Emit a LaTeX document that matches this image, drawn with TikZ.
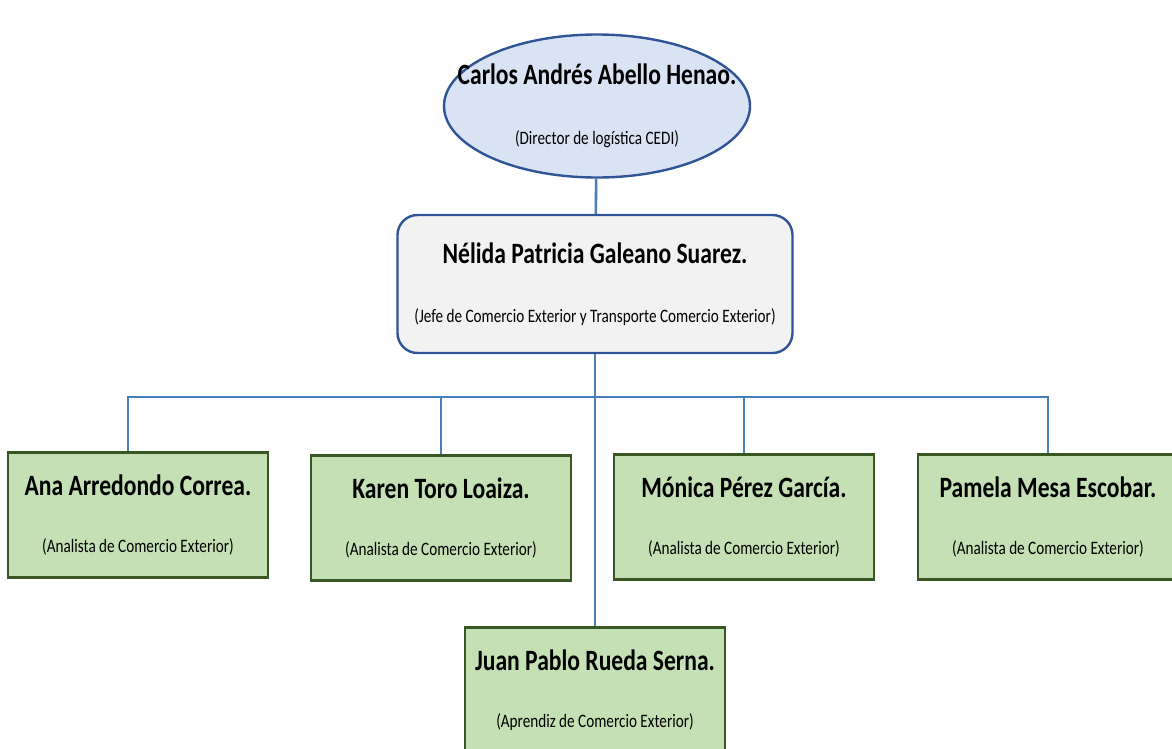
\documentclass[tikz,border=0pt]{standalone}
\usepackage{fontspec}
\setmainfont{Carlito}[FakeStretch=0.8]
\usetikzlibrary{shapes.geometric,calc}
\definecolor{headfill}{HTML}{DAE3F3}
\definecolor{headline}{HTML}{2F5597}
\definecolor{bossfill}{HTML}{F2F2F2}
\definecolor{staffill}{HTML}{C5E0B4}
\definecolor{staffline}{HTML}{385723}
\definecolor{linkblue}{HTML}{4A7EBB}
\newcommand{\pname}[1]{{\fontsize{29.5}{32}\selectfont\bfseries #1}}
\newcommand{\prole}[1]{{\fontsize{19}{22}\selectfont #1}}

\begin{document}
\begin{tikzpicture}[x=1pt, y=1pt,
    every node/.style={align=center, inner sep=0pt},
    head/.style={ellipse, draw=headline, fill=headfill, line width=2.4pt, inner xsep=-40pt, minimum width=306, minimum height=143},
    boss/.style={rectangle, rounded corners=20pt, draw=headline, fill=bossfill, line width=2.4pt, minimum width=395, minimum height=138},
    staff/.style={rectangle, draw=staffline, fill=staffill, line width=2.8pt, minimum width=260, minimum height=125},
    link/.style={draw=linkblue, line width=2.6pt}
]
\useasboundingbox (0,0) rectangle (1172,-748);

% Level 0 -- director
\node[head] (carlos) at (597,-106) {\pname{Carlos Andrés Abello Henao.}\\[45pt]\prole{(Director de logística CEDI)}};

% Level 1 -- jefe
\node[boss] (nelida) at (595,-284) {\pname{Nélida Patricia Galeano Suarez.}\\[44pt]\prole{(Jefe de Comercio Exterior y Transporte Comercio Exterior)}};

% Level 2 -- analistas
\node[staff] (ana)    at (138,-515)  {\pname{Ana Arredondo Correa.}\\[42pt]\prole{(Analista de Comercio Exterior)}};
\node[staff] (karen)  at (441,-518)  {\pname{Karen Toro Loaiza.}\\[42pt]\prole{(Analista de Comercio Exterior)}};
\node[staff] (monica) at (744,-517)  {\pname{Mónica Pérez García.}\\[42pt]\prole{(Analista de Comercio Exterior)}};
\node[staff] (pamela) at (1048,-517) {\pname{Pamela Mesa Escobar.}\\[42pt]\prole{(Analista de Comercio Exterior)}};

% Level 3 -- aprendiz
\node[staff] (juan) at (595,-690) {\pname{Juan Pablo Rueda Serna.}\\[42pt]\prole{(Aprendiz de Comercio Exterior)}};

% Connectors
\coordinate (bus) at (597,-397);
\draw[link] (carlos) -- (nelida);
\draw[link] (nelida) -- (juan);
\draw[link] ($(ana.north)+(-10,0)$) |- (bus) -| (pamela.north);
\draw[link] (karen.north) -- (karen.north |- bus);
\draw[link] (monica.north) -- (monica.north |- bus);
\end{tikzpicture}
\end{document}
